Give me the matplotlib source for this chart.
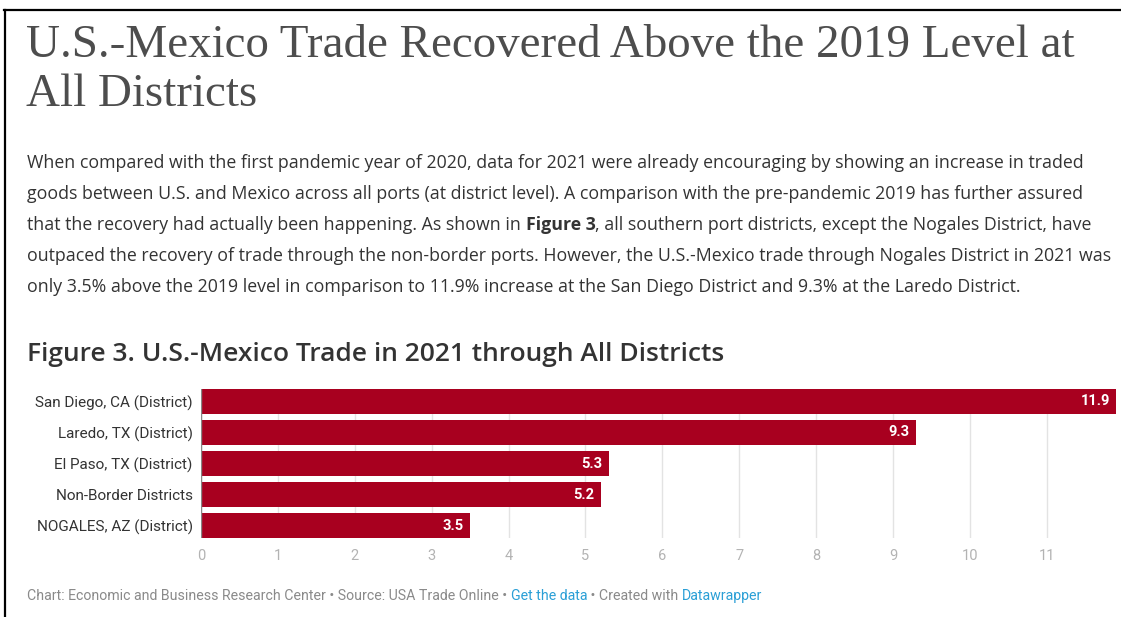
import matplotlib
matplotlib.use("Agg")
import matplotlib.pyplot as plt
from matplotlib.lines import Line2D

# ------------------------------------------------------------------------------
# Data
# ------------------------------------------------------------------------------

districts = [
    "San Diego, CA (District)",
    "Laredo, TX (District)",
    "El Paso, TX (District)",
    "Non-Border Districts",
    "NOGALES, AZ (District)",
]
pct_above_2019 = [11.9, 9.3, 5.3, 5.2, 3.5]
x_ticks = list(range(0, 12))

title_lines = ["U.S.-Mexico Trade Recovered Above the 2019 Level at", "All Districts"]
body_lines = [
    [("When compared with the first pandemic year of 2020, data for 2021 were already encouraging by showing an increase in traded", "normal")],
    [("goods between U.S. and Mexico across all ports (at district level). A comparison with the pre-pandemic 2019 has further assured", "normal")],
    [("that the recovery had actually been happening. As shown in ", "normal"),
     ("Figure 3", "bold"),
     (", all southern port districts, except the Nogales District, have", "normal")],
    [("outpaced the recovery of trade through the non-border ports. However, the U.S.-Mexico trade through Nogales District in 2021 was", "normal")],
    [("only 3.5% above the 2019 level in comparison to 11.9% increase at the San Diego District and 9.3% at the Laredo District.", "normal")],
]
heading = "Figure 3. U.S.-Mexico Trade in 2021 through All Districts"
footer = [
    ("Chart: Economic and Business Research Center \u2022 Source: USA Trade Online \u2022 ", "#8a8a8a"),
    ("Get the data", "#2a9fd6"),
    (" \u2022 Created with ", "#8a8a8a"),
    ("Datawrapper", "#2a9fd6"),
]

BAR_RED = "#a8001f"
W, H = 1121, 617

fig = plt.figure(figsize=(W / 100, H / 100), dpi=100)
fig.patch.set_facecolor("white")


def fx(px):
    return px / W


def fy(py):
    return 1 - py / H


def draw_runs(x_px, y_px, runs, **kw):
    """Draw text pieces one after another on the same baseline."""
    renderer = fig.canvas.get_renderer()
    x = fx(x_px)
    for text, style in runs:
        t = fig.text(x, fy(y_px), text, va="baseline", ha="left", **style, **kw)
        bb = t.get_window_extent(renderer=renderer)
        x = fx(bb.x1)
    return x


# page frame (top and left edges)
fig.add_artist(Line2D([fx(4), 1], [fy(10), fy(10)], color="black", lw=1.6,
                      transform=fig.transFigure))
fig.add_artist(Line2D([fx(5), fx(5)], [0, fy(10)], color="black", lw=1.6,
                      transform=fig.transFigure))

# title, two lines
for i, line in enumerate(title_lines):
    fig.text(fx(26), fy(57 + i * 49), line, family="Liberation Serif",
             fontsize=33.8, color="#4d4d4d", va="baseline", ha="left")

# paragraph
for i, line in enumerate(body_lines):
    runs = [(txt, {"fontweight": w}) for txt, w in line]
    draw_runs(27, 168 + i * 31, runs, family="Open Sans", fontsize=12.8,
              color="#333333")

# chart heading
fig.text(fx(27), fy(361), heading, family="Open Sans", fontweight="semibold",
         fontsize=19, color="#333333", va="baseline", ha="left")

# ------------------------------------------------------------------------------
# Bar chart
# ------------------------------------------------------------------------------

ax = fig.add_axes([fx(201), fy(538), fx(1116) - fx(201), fy(389) - fy(538)])
y = list(range(len(districts)))
ax.barh(y, pct_above_2019, height=0.8, color=BAR_RED, zorder=2)

for yi, v in zip(y, pct_above_2019):
    ax.text(v - 0.08, yi, f"{v:.1f}", ha="right", va="center", color="white",
            fontsize=10.5, fontweight="bold", family="Roboto", zorder=3)

ax.set_xlim(0, 11.9)
ax.set_ylim(len(districts) - 0.6, -0.4)
ax.set_xticks(x_ticks)
ax.set_yticks(y)
ax.set_yticklabels(districts, family="Roboto", fontsize=11, color="#333333")
ax.tick_params(axis="y", length=0, pad=6)
ax.tick_params(axis="x", length=0, pad=8, labelcolor="#b3b3b3", labelsize=10.5)
for lbl in ax.get_xticklabels():
    lbl.set_family("Roboto")
ax.grid(axis="x", color="#e3e3e3", lw=1, zorder=0)
for s in ax.spines.values():
    s.set_visible(False)
ax.axvline(0, color="#888888", lw=1, zorder=3)

# footer
draw_runs(27, 600, [(t, {"color": c}) for t, c in footer],
          family="Roboto", fontsize=10.2)

fig.savefig("out.png", dpi=100, facecolor="white")
